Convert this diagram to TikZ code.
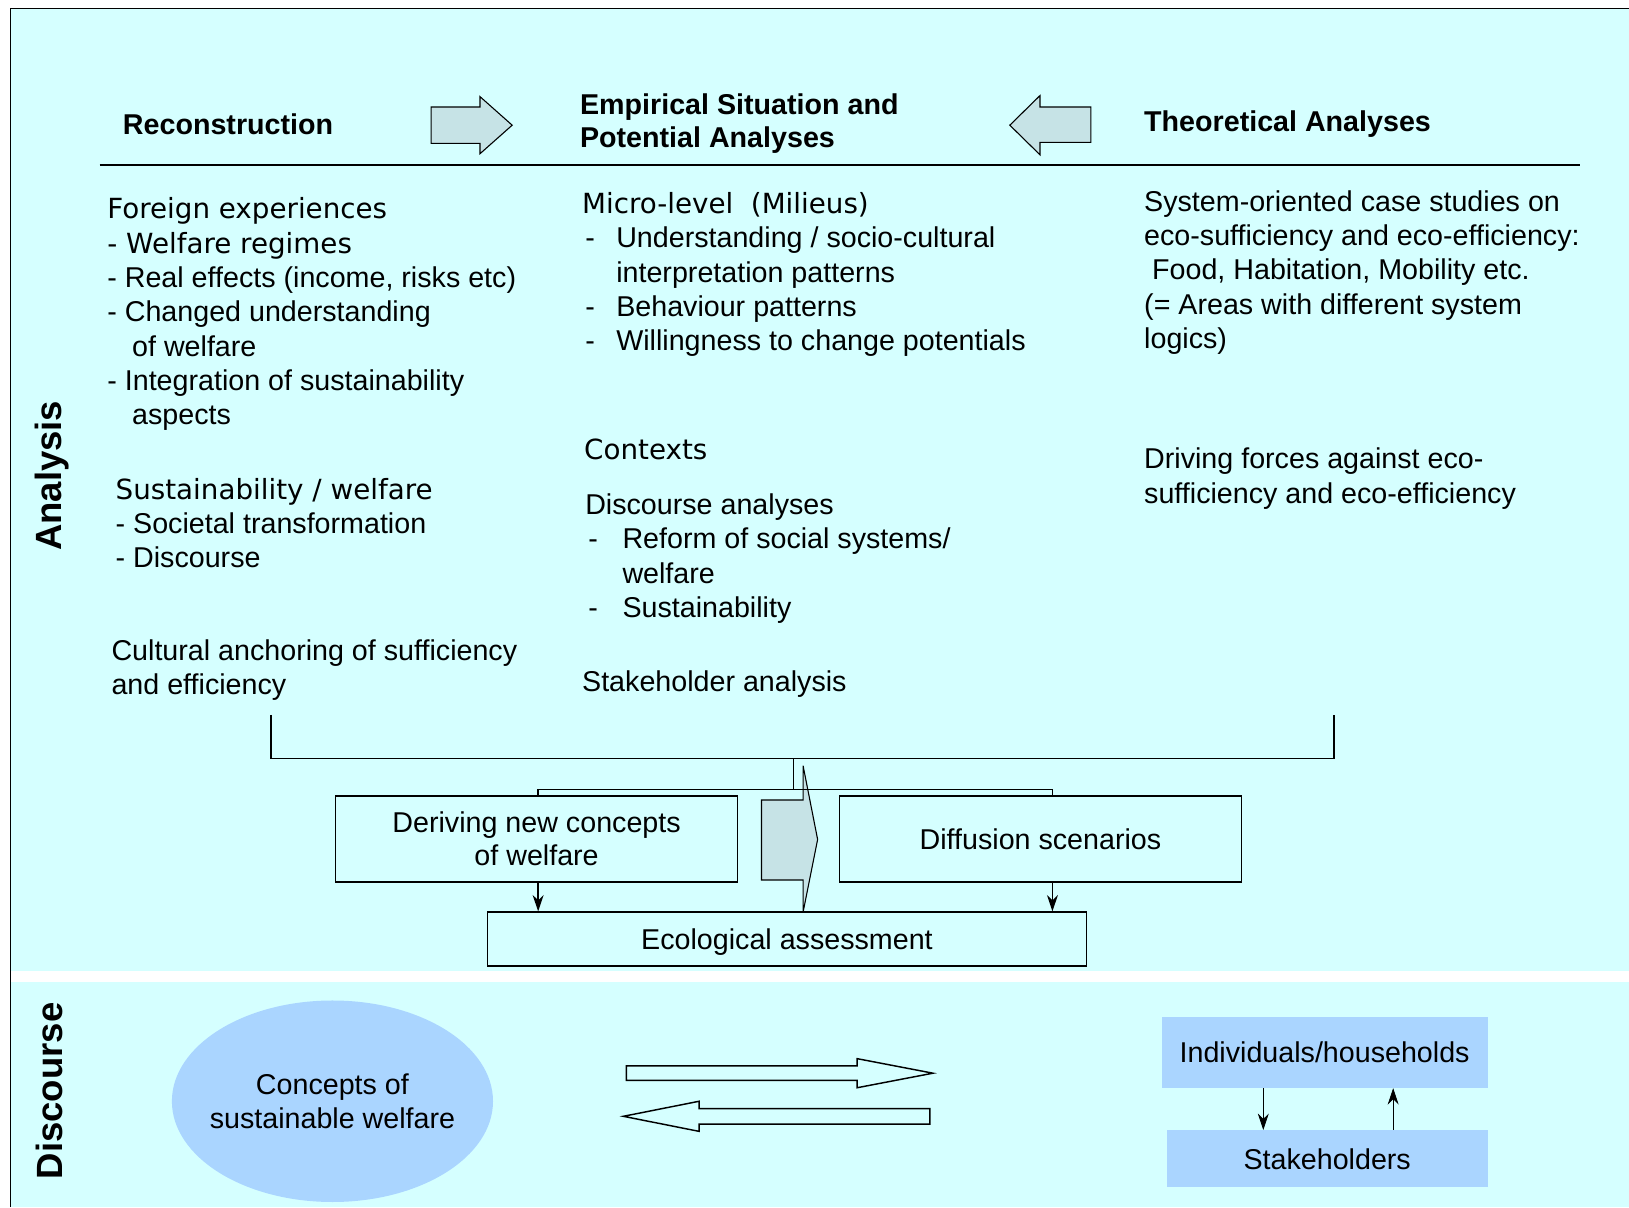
\documentclass[tikz,border=0pt]{standalone}
\usepackage{fontspec}
\setmainfont{Liberation Sans}
\newfontfamily\verdfont{DejaVu Sans}
\usetikzlibrary{positioning,arrows,arrows.meta,shapes.geometric}
\definecolor{backcyan}{RGB}{213,255,255}
\definecolor{discblue}{RGB}{170,213,255}
\definecolor{blockfill}{RGB}{198,227,230}
\newcommand{\txt}{\fontsize{15.7}{18.8}\selectfont}
\newcommand{\vtxt}{\verdfont\fontsize{15.2}{18.8}\selectfont}
\newcommand{\hd}{\fontsize{15.7}{18.2}\selectfont\bfseries}
\newcommand{\itemdash}[1][18.7pt]{\makebox[#1][l]{\hspace{1.7pt}-}}

\begin{document}
\begin{tikzpicture}[x=0.02cm,y=-0.02cm,font=\txt]
    \tikzstyle{txt}=[inner sep=0pt, align=left, anchor=north west]
    \tikzstyle{head}=[inner sep=0pt, anchor=base west, font=\hd]
    \tikzstyle{side}=[font=\fontsize{20}{24}\selectfont\bfseries, rotate=90]
    \tikzstyle{box}=[draw, line width=0.8pt, inner sep=0pt, align=center, text depth=0pt, font=\fontsize{15.7}{18}\selectfont]
    \tikzstyle{disc}=[fill=discblue, inner sep=0pt, align=center]
    \tikzstyle{block}=[draw, line width=0.6pt, fill=blockfill]
    \tikzstyle{hollow}=[draw, line width=0.8pt]
    \tikzstyle{link}=[line width=0.8pt]
    \tikzstyle{tip}=[-{Stealth[length=9pt,width=6pt]}]

    % Background
    \useasboundingbox (0,0) rectangle (1568,1162);
    \fill[white] (0,0) rectangle (1568,1162);
    \fill[backcyan] (10,8) rectangle (1568,1162);
    \fill[white] (11,935) rectangle (1568,945);
    \draw[link] (10,1162) -- (10,8) -- (1568,8);

    % Headings
    \node[head] (recon) at (118,129) {Reconstruction};
    \node[txt,font=\hd] (empir) at (558,90) {Empirical Situation and\\Potential Analyses};
    \node[head] (theory) at (1101,127) {Theoretical Analyses};
    \draw[block] (415,103) -- (462,103) -- (462,93) -- (493,120.5) -- (462,148) -- (462,138) -- (415,138) -- cycle;
    \draw[block] (1050,103) -- (1001,103) -- (1001,92) -- (972,120.5) -- (1001,149) -- (1001,137) -- (1050,137) -- cycle;
    \draw[link] (96,159) -- (1521,159);

    \node[side] (analysis) at (50,458) {Analysis};
    \node[side] (discourse) at (48,1050) {Discourse};

    % Reconstruction
    \node[txt] (foreign) at (103,190) {{\vtxt Foreign experiences}\\{\vtxt - Welfare regimes}\\- Real effects (income, risks etc)\\- Changed understanding\\\hspace*{13.6pt}of welfare\\- Integration of sustainability\\\hspace*{13.6pt}aspects};
    \node[txt] (sustain) at (111,460) {{\vtxt Sustainability / welfare}\\- Societal transformation\\- Discourse};
    \node[txt] (cultural) at (107,615) {Cultural anchoring of sufficiency\\and efficiency};

    % Empirical situation
    \node[txt] (micro) at (560,185) {{\vtxt Micro-level\ \ (Milieus)}\\\itemdash Understanding / socio-cultural\\\hspace*{18.7pt}interpretation patterns\\\itemdash Behaviour patterns\\\itemdash Willingness to change potentials};
    \node[txt] (contexts) at (562,422) {\vtxt Contexts};
    \node[txt] (discan) at (563,475) {Discourse analyses\\\itemdash[20.4pt]Reform of social systems/\\\hspace*{20.4pt}welfare\\\itemdash[20.4pt]Sustainability};
    \node[txt] (stakean) at (560,645) {Stakeholder analysis};

    % Theoretical analyses
    \node[txt] (system) at (1101,183) {System-oriented case studies on\\eco-sufficiency and eco-efficiency:\\\ Food, Habitation, Mobility etc.\\(= Areas with different system\\logics)};
    \node[txt] (driving) at (1101,431) {Driving forces against eco-\\sufficiency and eco-efficiency};

    % Synthesis
    \node[box, minimum width=7.74cm, minimum height=1.66cm] (derive) at (516.5,807.5) {Deriving new concepts\\of welfare};
    \node[box, minimum width=7.74cm, minimum height=1.66cm] (diffuse) at (1001.5,807.5) {Diffusion scenarios};
    \node[box, minimum width=11.54cm, minimum height=1.04cm] (eco) at (757.5,904) {Ecological assessment};

    \coordinate (brl) at (261,688);
    \coordinate (brr) at (1284,688);
    \coordinate (join) at (764,730);
    \coordinate (dl) at (518,760);
    \coordinate (dr) at (1013,760);

    \draw[block] (733,770) -- (773,770) -- (773,737) -- (787,808) -- (773,878) -- (773,847) -- (733,847) -- cycle;
    \draw[link] (brl) -- (brl |- join) -- (brr |- join) -- (brr);
    \draw[link] (join) -- (join |- dl);
    \draw[link] (derive.north -| dl) -- (dl) -- (dr) -- (diffuse.north -| dr);
    \draw[link,tip] (derive.south -| dl) -- (eco.north -| dl);
    \draw[link,tip] (diffuse.south -| dr) -- (eco.north -| dr);

    % Discourse
    \node[disc, ellipse, inner xsep=-5pt, minimum width=6.08cm, minimum height=3.88cm] (concepts) at (320,1060) {Concepts of\\sustainable welfare};
    \node[disc, minimum width=6.28cm, minimum height=1.36cm] (indiv) at (1275,1013) {Individuals/households};
    \node[disc, minimum width=6.18cm, minimum height=1.1cm] (stake) at (1277.5,1115.5) {Stakeholders};

    \draw[hollow] (603,1026) -- (825,1026) -- (825,1019) -- (898,1033) -- (825,1047) -- (825,1040) -- (603,1040) -- cycle;
    \draw[hollow] (895,1067) -- (673,1067) -- (673,1060) -- (600,1074.5) -- (673,1089) -- (673,1082) -- (895,1082) -- cycle;

    \coordinate (ia) at (1216,1068);
    \coordinate (ib) at (1341,1068);
    \draw[tip] (indiv.south -| ia) -- (stake.north -| ia);
    \draw[tip] (stake.north -| ib) -- (indiv.south -| ib);
\end{tikzpicture}
\end{document}
